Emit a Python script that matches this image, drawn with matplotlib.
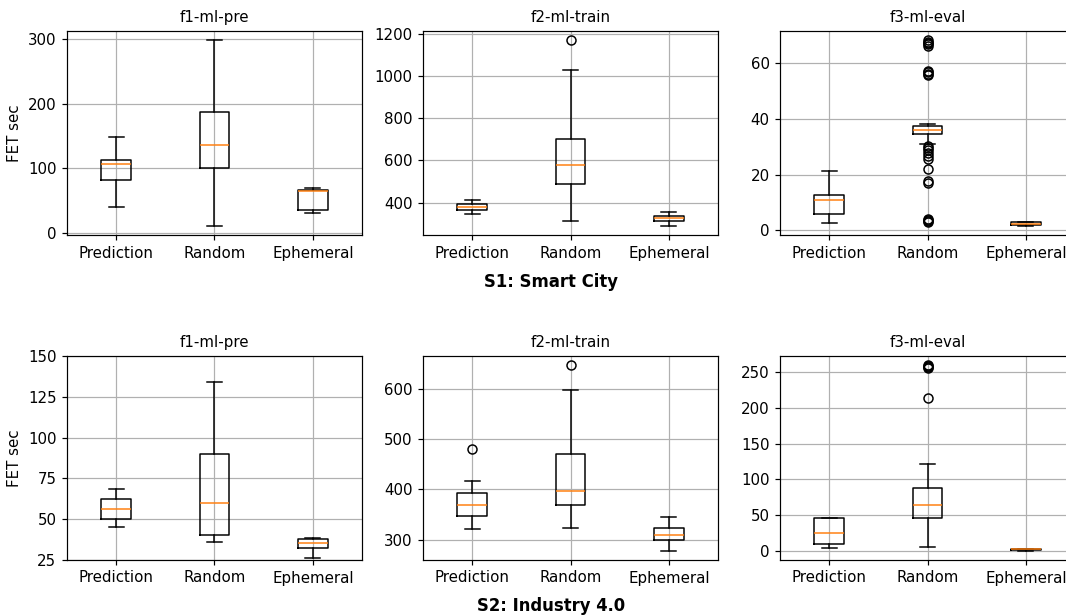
import matplotlib
matplotlib.use("Agg")
import matplotlib.pyplot as plt

LABELS = ["Prediction", "Random", "Ephemeral"]
FUNCS = ["f1-ml-pre", "f2-ml-train", "f3-ml-eval"]
SCENARIOS = ["S1: Smart City", "S2: Industry 4.0"]

# five-number summaries per strategy: whislo, q1, median, q3, whishi
S1_PRE = [[40, 81, 106, 112, 149], [11, 100, 136, 187, 298], [31, 35, 64, 67, 69]]
S1_TRAIN = [[348, 364, 381, 392, 411], [312, 488, 578, 703, 1026], [291, 312, 326, 338, 357]]
S1_EVAL = [[2.8, 6.0, 11.0, 12.7, 21.2], [30.8, 34.5, 35.9, 37.4, 38.0], [1.7, 1.9, 2.2, 2.9, 3.0]]

S2_PRE = [[45.2, 49.9, 56.5, 62.6, 68.3], [35.8, 40.5, 60.1, 89.7, 133.9], [26.2, 32.1, 35.2, 37.7, 38.7]]
S2_TRAIN = [[322, 348, 368, 392, 417], [324, 368, 396, 471, 598], [278, 299, 309, 324, 346]]
S2_EVAL = [[4.6, 10.2, 25.0, 45.9, 45.9], [5.6, 46.8, 64.5, 88.6, 121], [0.8, 1.5, 2.6, 3.4, 3.8]]

# outliers per strategy
S1_PRE_FLIERS = [[], [], []]
S1_TRAIN_FLIERS = [[], [1168], []]
S1_EVAL_FLIERS = [
    [],
    [68, 67.5, 67, 66.5, 66, 57, 56.5, 56, 55.5, 30.2, 29.5, 28.8, 27.8,
     26.8, 25.5, 22, 17.8, 16.8, 4.2, 3.8, 3.4, 3.0],
    [],
]
S2_PRE_FLIERS = [[], [], []]
S2_TRAIN_FLIERS = [[481], [647], []]
S2_EVAL_FLIERS = [[], [255, 257, 258, 259, 213], []]

PANELS = [
    [(S1_PRE, S1_PRE_FLIERS), (S1_TRAIN, S1_TRAIN_FLIERS), (S1_EVAL, S1_EVAL_FLIERS)],
    [(S2_PRE, S2_PRE_FLIERS), (S2_TRAIN, S2_TRAIN_FLIERS), (S2_EVAL, S2_EVAL_FLIERS)],
]


def make_stats(summary, fliers):
    stats = []
    for label, (lo, q1, med, q3, hi), fl in zip(LABELS, summary, fliers):
        stats.append(dict(label=label, whislo=lo, q1=q1, med=med, q3=q3,
                          whishi=hi, fliers=fl))
    return stats


W, H = 1066, 616
DPI = 108
fig = plt.figure(figsize=(W / DPI, H / DPI), dpi=DPI)

col_left = [67, 423, 780]
row_top = [31, 356]
ax_w, ax_h = 295, 204
label_y = [282, 606]

for r in range(2):
    for c in range(3):
        ax = fig.add_axes([col_left[c] / W, 1 - (row_top[r] + ax_h) / H,
                           ax_w / W, ax_h / H])
        summary, fliers = PANELS[r][c]
        ax.bxp(make_stats(summary, fliers))
        ax.set_title(FUNCS[c], fontsize=10)
        ax.grid(True)
        if c == 0:
            ax.set_ylabel("FET sec")
        if r == 1 and c == 0:
            ax.set_ylim(25, 150)
    fig.text(551 / W, 1 - label_y[r] / H, SCENARIOS[r], ha="center",
             va="center", fontsize=11, fontweight="bold")

fig.savefig("out.png", dpi=DPI)
